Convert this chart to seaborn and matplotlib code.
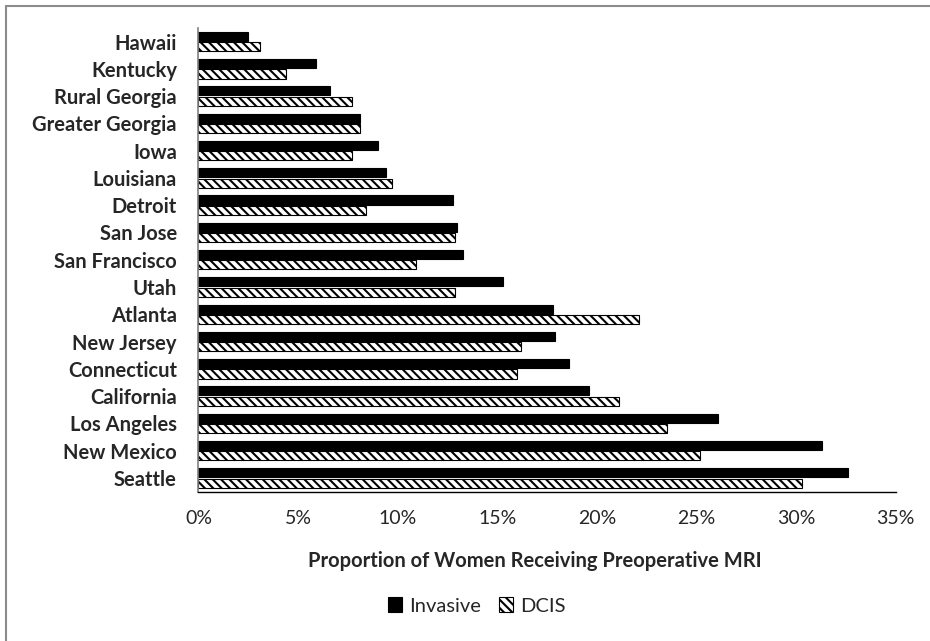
import pandas as pd
import matplotlib
matplotlib.use("Agg")
import matplotlib.pyplot as plt
import seaborn as sns
from matplotlib.lines import Line2D
from matplotlib.ticker import FuncFormatter

# Значения (в процентах)
sites = ["Hawaii", "Kentucky", "Rural Georgia", "Greater Georgia", "Iowa",
         "Louisiana", "Detroit", "San Jose", "San Francisco", "Utah",
         "Atlanta", "New Jersey", "Connecticut", "California",
         "Los Angeles", "New Mexico", "Seattle"]
invasive = [2.5, 5.9, 6.6, 8.1, 9.0, 9.4, 12.8, 13.0, 13.3, 15.3,
            17.8, 17.9, 18.6, 19.6, 26.1, 31.3, 32.6]
dcis = [3.1, 4.4, 7.7, 8.1, 7.7, 9.7, 8.4, 12.9, 10.9, 12.9,
        22.1, 16.2, 16.0, 21.1, 23.5, 25.2, 30.3]
types = ["Invasive", "DCIS"]

df = pd.DataFrame({"site": sites * 2,
                   "value": invasive + dcis,
                   "type": ["Invasive"] * len(sites) + ["DCIS"] * len(sites)})

sns.set_style("white")
plt.rcParams["font.family"] = ["Lato", "DejaVu Sans"]
plt.rcParams["hatch.linewidth"] = 1.5

fig = plt.figure(figsize=(9.3, 6.41), dpi=100)
ax = fig.add_axes([0.2134, 0.2332, 0.7497, 0.7233])

sns.barplot(data=df, y="site", x="value", hue="type", hue_order=types,
            order=sites, palette={"Invasive": "black", "DCIS": "white"},
            edgecolor="black", linewidth=0.8, width=0.76, gap=0.12,
            legend=False, ax=ax)
for bar in ax.containers[1]:
    bar.set_hatch("\\\\\\\\")

ax.set_xlim(0, 35)
ax.set_ylim(16.5, -0.5)
ax.set_xticks(range(0, 36, 5))
ax.xaxis.set_major_formatter(FuncFormatter(lambda v, p: f"{v:.0f}%"))
ax.tick_params(axis="x", length=0, pad=13, labelsize=14)
ax.tick_params(axis="y", length=0, pad=15.5, labelsize=14.5)
for lab in ax.get_yticklabels():
    lab.set_fontweight("bold")

for s in ["top", "right"]:
    ax.spines[s].set_visible(False)
ax.spines["left"].set_color("#808080")
ax.spines["left"].set_linewidth(1.2)
ax.spines["bottom"].set_color("black")
ax.spines["bottom"].set_linewidth(1.0)

ax.set_ylabel("")
ax.set_xlabel("Proportion of Women Receiving Preoperative MRI",
              fontsize=14.5, fontweight="bold")
ax.xaxis.set_label_coords(0.482, -0.128)

fig.legend(handles=[ax.containers[0], ax.containers[1]], labels=types,
           loc="center", bbox_to_anchor=(477 / 930, 1 - 606 / 641),
           ncol=2, frameon=False, fontsize=14.5, handlelength=0.7,
           handleheight=0.7, handletextpad=0.35, columnspacing=0.9)

# серая рамка сверху и слева, как в исходнике
fig.add_artist(Line2D([5.5 / 930, 5.5 / 930], [0, 1 - 6 / 641],
                      transform=fig.transFigure, color="#8c8c8c", lw=1.5))
fig.add_artist(Line2D([5.5 / 930, 1], [1 - 6 / 641, 1 - 6 / 641],
                      transform=fig.transFigure, color="#8c8c8c", lw=1.5))

fig.savefig("out.png", dpi=100)
